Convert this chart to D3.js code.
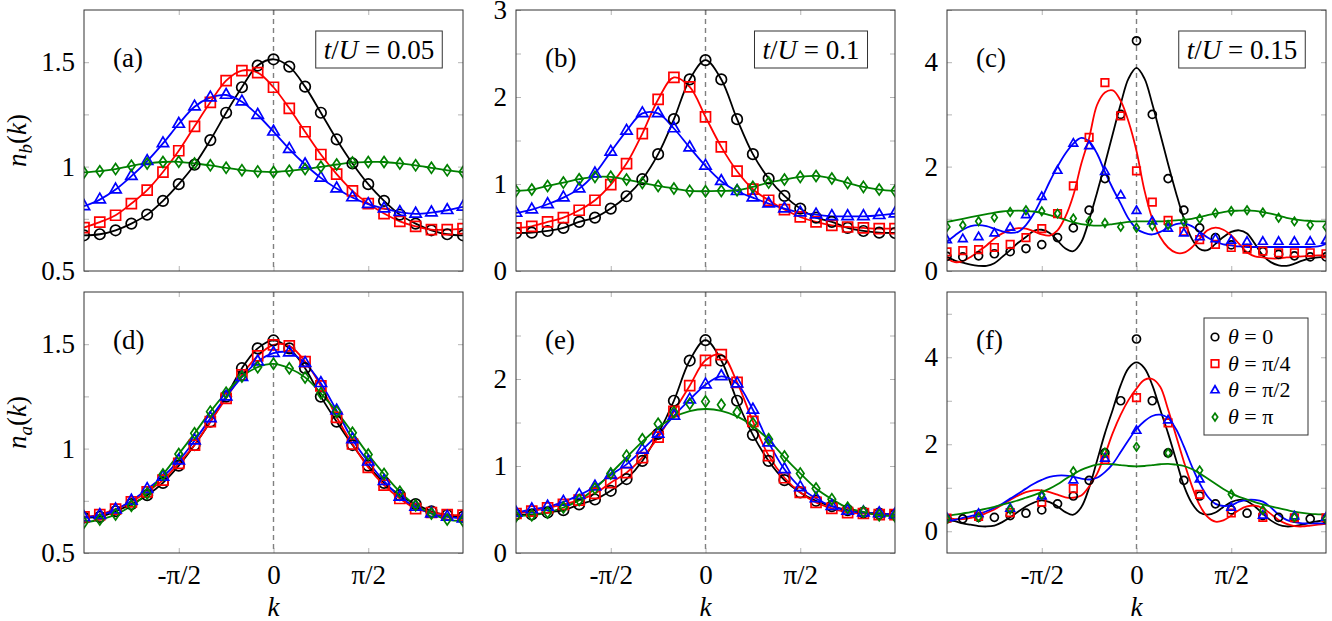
<!DOCTYPE html>
<html>
<head>
<meta charset="utf-8">
<script src="https://d3js.org/d3.v7.min.js"></script>
<style>
  body { margin: 0; background: #fff; }
  svg text { font-family: "Liberation Serif", "DejaVu Serif", serif; fill: #000; }
</style>
</head>
<body>
<div id="my_dataviz"></div>
<script>
// k grids in units of pi
const kData = d3.range(-12, 13).map(n => n / 12);   // 25 points, step pi/12
const kHalf = d3.range(-6, 7).map(n => n / 6);      // 13 points, step pi/6
const kFine = d3.range(-24, 25).map(n => n / 24);   // 49 points for the fitted curves

const thetaLabels = ["0", "π/4", "π/2", "π"];
const colors = ["#000000", "#ff0000", "#0000ff", "#008000"];
const markTypes = ["circle", "square", "triangle", "diamond"];
const kTicks = [-0.5, 0, 0.5];
const kTickLabels = ["-π/2", "0", "π/2"];

// (a) n_b, t/U = 0.05
const aT0 = [0.671,0.676,0.695,0.727,0.770,0.836,0.916,1.009,1.127,1.258,1.380,1.484,1.514,1.479,1.383,1.258,1.130,1.015,0.916,0.836,0.770,0.727,0.695,0.676,0.671];
const aT1 = [0.708,0.734,0.767,0.823,0.887,0.974,1.076,1.193,1.308,1.412,1.460,1.450,1.380,1.279,1.167,1.058,0.964,0.884,0.823,0.775,0.738,0.714,0.698,0.698,0.703];
const aT2 = [0.810,0.842,0.890,0.954,1.026,1.111,1.204,1.287,1.330,1.343,1.311,1.247,1.167,1.084,1.010,0.946,0.895,0.852,0.820,0.799,0.782,0.774,0.780,0.791,0.807];
const aT3 = [0.972,0.978,0.988,1.004,1.015,1.022,1.023,1.015,1.006,0.994,0.983,0.977,0.974,0.980,0.988,0.999,1.010,1.020,1.022,1.022,1.015,1.006,0.994,0.982,0.974];

// (b) n_b, t/U = 0.1
const bT0 = [0.437,0.441,0.460,0.495,0.564,0.614,0.717,0.859,1.055,1.343,1.745,2.202,2.424,2.202,1.745,1.343,1.063,0.863,0.717,0.614,0.564,0.495,0.460,0.441,0.437];
const bT1 = [0.495,0.514,0.564,0.614,0.698,0.813,0.993,1.235,1.580,1.972,2.225,2.117,1.772,1.427,1.147,0.940,0.813,0.706,0.621,0.564,0.525,0.506,0.495,0.487,0.487];
const bT2 = [0.667,0.706,0.767,0.844,0.947,1.120,1.369,1.611,1.811,1.811,1.638,1.419,1.208,1.032,0.917,0.844,0.775,0.717,0.671,0.648,0.629,0.629,0.629,0.641,0.660];
const bT3 = [0.921,0.936,0.978,1.016,1.055,1.082,1.082,1.051,1.013,0.978,0.948,0.921,0.917,0.921,0.928,0.967,1.016,1.051,1.082,1.093,1.063,1.013,0.967,0.936,0.921];

// (c) n_b, t/U = 0.15 : data points and fitted curves
const cT0 = [0.28,0.27,0.29,0.33,0.37,0.43,0.506,0.64,0.826,1.165,1.77,3.0,4.41,3.0,1.77,1.165,0.826,0.64,0.50,0.43,0.37,0.32,0.29,0.27,0.27];
const cT1 = [0.365,0.39,0.41,0.45,0.51,0.64,0.81,1.10,1.63,2.56,3.61,2.97,1.92,1.32,0.97,0.76,0.60,0.51,0.45,0.42,0.38,0.35,0.35,0.35,0.33];
const cT2 = [0.59,0.61,0.65,0.72,0.83,1.07,1.42,1.92,2.44,2.39,1.90,1.45,1.15,0.95,0.81,0.72,0.65,0.61,0.58,0.56,0.56,0.56,0.56,0.56,0.58];
const cT3 = [0.845,0.877,0.954,1.024,1.13,1.165,1.145,1.10,1.005,0.954,0.92,0.845,0.83,0.86,0.88,0.94,1.0,1.11,1.15,1.165,1.12,1.02,0.95,0.88,0.845];
const cL0 = [0.27,0.20,0.16,0.12,0.10,0.10,0.15,0.27,0.40,0.54,0.65,0.77,0.79,0.73,0.58,0.43,0.38,0.55,0.98,1.50,2.05,2.63,3.20,3.69,3.89,
             3.69,3.20,2.63,2.05,1.50,1.00,0.62,0.42,0.40,0.52,0.65,0.75,0.78,0.72,0.52,0.30,0.17,0.11,0.10,0.14,0.20,0.24,0.26,0.27];
const cL1 = [0.24,0.17,0.19,0.27,0.38,0.49,0.62,0.72,0.78,0.82,0.81,0.76,0.70,0.68,0.78,1.04,1.45,2.05,2.55,3.18,3.42,3.46,3.26,2.86,2.30,
             1.55,1.00,0.65,0.45,0.35,0.35,0.45,0.62,0.78,0.83,0.79,0.68,0.52,0.36,0.28,0.26,0.24,0.24,0.26,0.27,0.28,0.29,0.30,0.30];
const cL2 = [0.56,0.68,0.79,0.86,0.88,0.86,0.81,0.76,0.73,0.75,0.88,1.10,1.39,1.71,2.00,2.25,2.44,2.55,2.48,2.25,1.90,1.58,1.29,1.00,0.81,
             0.73,0.70,0.75,0.83,0.90,0.91,0.86,0.75,0.64,0.56,0.51,0.49,0.47,0.46,0.46,0.46,0.46,0.46,0.46,0.46,0.46,0.46,0.47,0.52];
const cL3 = [0.94,0.97,1.00,1.03,1.06,1.09,1.12,1.14,1.15,1.155,1.15,1.14,1.11,1.07,1.03,0.98,0.93,0.90,0.88,0.87,0.88,0.90,0.92,0.94,0.95,
             0.95,0.95,0.95,0.96,0.97,0.98,1.00,1.03,1.07,1.10,1.13,1.15,1.155,1.16,1.15,1.13,1.10,1.06,1.02,0.99,0.97,0.96,0.95,0.95];

// (d) n_a, t/U = 0.05
const dT0 = [0.670,0.673,0.700,0.734,0.777,0.836,0.918,1.017,1.129,1.249,1.385,1.480,1.518,1.480,1.385,1.249,1.129,1.017,0.918,0.836,0.777,0.734,0.700,0.682,0.673];
const dT1 = [0.673,0.684,0.710,0.745,0.793,0.849,0.929,1.017,1.129,1.241,1.353,1.444,1.497,1.492,1.417,1.300,1.150,1.022,0.910,0.825,0.761,0.713,0.694,0.684,0.681];
const dT2 = [0.670,0.681,0.708,0.750,0.806,0.865,0.942,1.038,1.145,1.249,1.342,1.417,1.457,1.460,1.409,1.313,1.182,1.044,0.937,0.844,0.769,0.721,0.689,0.673,0.665];
const dT3 = [0.646,0.660,0.684,0.726,0.785,0.876,0.974,1.073,1.177,1.268,1.345,1.390,1.406,1.385,1.341,1.265,1.177,1.076,0.972,0.878,0.793,0.729,0.689,0.660,0.654];

// (e) n_a, t/U = 0.1
const eT0 = [0.442,0.442,0.465,0.492,0.558,0.615,0.715,0.850,1.058,1.369,1.750,2.212,2.446,2.212,1.750,1.358,1.058,0.838,0.696,0.600,0.538,0.492,0.465,0.454,0.442];
const eT1 = [0.454,0.481,0.519,0.558,0.608,0.685,0.808,0.923,1.096,1.331,1.627,1.923,2.215,2.281,1.962,1.512,1.119,0.865,0.696,0.581,0.512,0.465,0.454,0.442,0.442];
const eT2 = [0.462,0.500,0.531,0.588,0.665,0.762,0.896,1.019,1.185,1.369,1.577,1.762,1.935,2.031,1.946,1.646,1.269,0.962,0.754,0.627,0.538,0.485,0.465,0.454,0.442];
const eT3 = [0.423,0.435,0.465,0.523,0.608,0.742,0.915,1.119,1.308,1.485,1.619,1.715,1.742,1.704,1.619,1.492,1.308,1.108,0.915,0.742,0.619,0.519,0.473,0.435,0.423];
const eL3 = [0.423,0.435,0.465,0.523,0.608,0.742,0.915,1.100,1.280,1.440,1.560,1.630,1.655,1.635,1.570,1.460,1.300,1.100,0.915,0.742,0.619,0.519,0.473,0.435,0.423];

// (f) n_a, t/U = 0.15 : theta=0 on the pi/12 grid, the others on pi/6
const fT0 = [0.285,0.285,0.32,0.32,0.36,0.415,0.49,0.63,0.81,1.17,1.80,3.0,4.42,3.0,1.80,1.17,0.81,0.63,0.49,0.415,0.36,0.32,0.31,0.285,0.285];
const fT1 = [0.30,0.34,0.43,0.67,0.98,1.65,3.07,2.49,0.846,0.42,0.32,0.31,0.31];
const fT2 = [0.30,0.40,0.52,0.80,1.17,1.67,2.31,2.55,1.19,0.54,0.36,0.34,0.31];
const fT3 = [0.285,0.32,0.50,0.84,1.38,1.81,1.94,1.80,1.40,0.85,0.49,0.32,0.285];
const fL0 = [0.26,0.23,0.18,0.15,0.12,0.11,0.13,0.21,0.32,0.45,0.57,0.66,0.71,0.67,0.57,0.44,0.38,0.55,1.00,1.62,2.25,2.80,3.36,3.75,3.88,
             3.75,3.36,2.80,2.25,1.65,1.05,0.65,0.43,0.38,0.43,0.56,0.67,0.72,0.69,0.57,0.40,0.25,0.15,0.11,0.12,0.15,0.20,0.23,0.26];
const fL1 = [0.31,0.28,0.28,0.31,0.35,0.42,0.50,0.61,0.72,0.82,0.90,0.94,0.94,0.90,0.84,0.78,0.77,0.82,1.03,1.32,1.76,2.26,2.68,3.02,3.28,
             3.48,3.50,3.32,2.80,2.20,1.60,1.05,0.60,0.33,0.22,0.25,0.36,0.49,0.57,0.59,0.53,0.40,0.26,0.17,0.12,0.11,0.13,0.15,0.17];
const fL2 = [0.23,0.26,0.31,0.35,0.40,0.46,0.54,0.63,0.75,0.86,0.98,1.09,1.18,1.25,1.28,1.28,1.25,1.21,1.19,1.23,1.36,1.55,1.82,2.10,2.35,
             2.53,2.65,2.68,2.60,2.35,1.95,1.50,1.10,0.80,0.63,0.58,0.60,0.68,0.72,0.72,0.68,0.55,0.38,0.26,0.21,0.18,0.18,0.18,0.18];
const fL3 = [0.36,0.38,0.41,0.44,0.48,0.52,0.56,0.61,0.66,0.71,0.77,0.83,0.90,0.98,1.08,1.20,1.31,1.41,1.48,1.53,1.55,1.54,1.52,1.50,1.49,
             1.50,1.52,1.54,1.55,1.53,1.50,1.43,1.33,1.21,1.09,0.97,0.87,0.79,0.73,0.67,0.62,0.57,0.53,0.49,0.45,0.42,0.40,0.39,0.38];

// panel geometry
const colX = [84, 516, 947], rowY = [10, 292];
const pw = 379, ph = 261;

const panels = [
  { tag: "(a)", col: 0, row: 0, tU: "0.05", dom: [0.5, 1.75], ticks: [0.5, 0.75, 1, 1.25, 1.5], labels: [0.5, 1, 1.5], ms: 10.5,
    marks: [[kData, aT0], [kData, aT1], [kData, aT2], [kData, aT3]],
    lines: [[kData, aT0], [kData, aT1], [kData, aT2], [kData, aT3]] },
  { tag: "(b)", col: 1, row: 0, tU: "0.1", dom: [0, 3], ticks: [0, 0.5, 1, 1.5, 2, 2.5, 3], labels: [0, 1, 2, 3], ms: 10.5,
    marks: [[kData, bT0], [kData, bT1], [kData, bT2], [kData, bT3]],
    lines: [[kData, bT0], [kData, bT1], [kData, bT2], [kData, bT3]] },
  { tag: "(c)", col: 2, row: 0, tU: "0.15", dom: [0, 5], ticks: [0, 1, 2, 3, 4, 5], labels: [0, 2, 4], ms: 8,
    marks: [[kData, cT0], [kData, cT1], [kData, cT2], [kData, cT3]],
    lines: [[kFine, cL0], [kFine, cL1], [kFine, cL2], [kFine, cL3]] },
  { tag: "(d)", col: 0, row: 1, dom: [0.5, 1.75], ticks: [0.5, 0.75, 1, 1.25, 1.5], labels: [0.5, 1, 1.5], ms: 10.5,
    marks: [[kData, dT0], [kData, dT1], [kData, dT2], [kData, dT3]],
    lines: [[kData, dT0], [kData, dT1], [kData, dT2], [kData, dT3]] },
  { tag: "(e)", col: 1, row: 1, dom: [0, 3], ticks: [0, 0.5, 1, 1.5, 2, 2.5], labels: [0, 1, 2], ms: 10.5,
    marks: [[kData, eT0], [kData, eT1], [kData, eT2], [kData, eT3]],
    lines: [[kData, eT0], [kData, eT1], [kData, eT2], [kData, eL3]] },
  { tag: "(f)", col: 2, row: 1, dom: [-0.5, 5.5], ticks: [0, 1, 2, 3, 4, 5], labels: [0, 2, 4], ms: 8, legend: true,
    marks: [[kData, fT0], [kHalf, fT1], [kHalf, fT2], [kHalf, fT3]],
    lines: [[kFine, fL0], [kFine, fL1], [kFine, fL2], [kFine, fL3]] }
];

function markPath(type, s) {
  const h = s / 2;
  if (type === "circle") return `M${h},0A${h},${h} 0 1,1 ${-h},0A${h},${h} 0 1,1 ${h},0Z`;
  if (type === "square") return `M${-h},${-h}H${h}V${h}H${-h}Z`;
  if (type === "triangle") { const r = s * 0.62; return `M0,${-r}L${r * 0.866},${r * 0.5}L${-r * 0.866},${r * 0.5}Z`; }
  return `M0,${-h * 1.05}L${h * 0.72},0L0,${h * 1.05}L${-h * 0.72},0Z`;
}

const svg = d3.select("#my_dataviz")
  .append("svg")
  .attr("width", 1332)
  .attr("height", 621);

function styleAxis(ax) {
  ax.attr("font-family", null).attr("font-size", 27);
  ax.select(".domain").remove();
  ax.selectAll(".tick line").attr("stroke", "#b4b4b4").attr("stroke-width", 1);
  ax.selectAll(".tick text").attr("fill", "#000");
}

panels.forEach((p, i) => {
  const g = svg.append("g").attr("transform", `translate(${colX[p.col]},${rowY[p.row]})`);
  const x = d3.scaleLinear().domain([-1, 1]).range([0, pw]);
  const y = d3.scaleLinear().domain(p.dom).range([ph, 0]);
  const yFmt = v => p.labels.includes(v) ? String(v) : "";

  // axes with inward ticks on all four sides
  g.append("g").call(d3.axisLeft(y).tickValues(p.ticks).tickFormat(yFmt).tickSizeInner(-5).tickSizeOuter(0).tickPadding(9)).call(styleAxis);
  g.append("g").attr("transform", `translate(${pw},0)`).call(d3.axisRight(y).tickValues(p.ticks).tickFormat("").tickSizeInner(-5).tickSizeOuter(0)).call(styleAxis);
  g.append("g").attr("transform", `translate(0,${ph})`)
    .call(d3.axisBottom(x).tickValues(kTicks).tickFormat((d, j) => p.row === 1 ? kTickLabels[j] : "").tickSizeInner(-5).tickSizeOuter(0).tickPadding(12))
    .call(styleAxis);
  g.append("g").call(d3.axisTop(x).tickValues(kTicks).tickFormat("").tickSizeInner(-5).tickSizeOuter(0)).call(styleAxis);

  // dashed line at k = 0
  g.append("line")
    .attr("x1", x(0)).attr("x2", x(0)).attr("y1", 0).attr("y2", ph)
    .attr("stroke", "#808080").attr("stroke-width", 1.4).attr("stroke-dasharray", "5,4");

  const clipId = "clip" + i;
  g.append("clipPath").attr("id", clipId).append("rect").attr("width", pw).attr("height", ph);
  const plot = g.append("g").attr("clip-path", `url(#${clipId})`);

  const line = d3.line()
    .x(d => x(d[0]))
    .y(d => y(d[1]))
    .curve(d3.curveCatmullRom.alpha(0.5));

  p.lines.forEach(([ks, vals], s) => {
    plot.append("path")
      .datum(ks.map((k, j) => [k, vals[j]]))
      .attr("fill", "none")
      .attr("stroke", colors[s])
      .attr("stroke-width", 1.8)
      .attr("d", line);
  });

  p.marks.forEach(([ks, vals], s) => {
    plot.selectAll(null)
      .data(ks.map((k, j) => [k, vals[j]]))
      .join("path")
      .attr("transform", d => `translate(${x(d[0])},${y(d[1])})`)
      .attr("d", markPath(markTypes[s], markTypes[s] === "square" ? p.ms - 0.5 : p.ms))
      .attr("fill", "none")
      .attr("stroke", colors[s])
      .attr("stroke-width", 1.7);
  });

  // frame
  g.append("rect").attr("width", pw).attr("height", ph)
    .attr("fill", "none").attr("stroke", "#333").attr("stroke-width", 1);

  // panel tag
  g.append("text").attr("x", 29).attr("y", 57).attr("font-size", 27).text(p.tag);

  // t/U box
  if (p.tU) {
    const box = g.append("rect");
    const t = g.append("text").attr("x", 295).attr("y", 49).attr("text-anchor", "middle").attr("font-size", 27);
    t.append("tspan").attr("font-style", "italic").text("t");
    t.append("tspan").text("/");
    t.append("tspan").attr("font-style", "italic").text("U");
    t.append("tspan").text(" = " + p.tU);
    const bb = t.node().getBBox();
    box.attr("x", bb.x - 8).attr("y", 21).attr("width", bb.width + 16).attr("height", 37)
      .attr("fill", "#fff").attr("stroke", "#333").attr("stroke-width", 1);
  }

  // legend
  if (p.legend) {
    const lg = g.append("g").attr("transform", "translate(257,26)");
    lg.append("rect").attr("width", 104).attr("height", 117)
      .attr("fill", "#fff").attr("stroke", "#333").attr("stroke-width", 1);
    thetaLabels.forEach((lab, s) => {
      const cy = 19 + s * 26.7;
      lg.append("path")
        .attr("transform", `translate(11,${cy})`)
        .attr("d", markPath(markTypes[s], 7.5))
        .attr("fill", "none").attr("stroke", colors[s]).attr("stroke-width", 1.7);
      const t = lg.append("text").attr("x", 24).attr("y", cy + 7).attr("font-size", 22);
      t.append("tspan").attr("font-style", "italic").text("θ");
      t.append("tspan").text(" = " + lab);
    });
  }

  // axis titles
  if (p.row === 1) {
    g.append("text").attr("x", pw / 2).attr("y", ph + 63).attr("text-anchor", "middle")
      .attr("font-size", 27).attr("font-style", "italic").text("k");
  }
  if (p.col === 0) {
    const t = g.append("text")
      .attr("transform", `translate(${26 - colX[0]},${ph / 2}) rotate(-90)`)
      .attr("text-anchor", "middle").attr("font-size", 27);
    t.append("tspan").attr("font-style", "italic").text("n");
    t.append("tspan").attr("font-style", "italic").attr("font-size", 19).attr("dy", 6).text(p.row === 0 ? "b" : "a");
    t.append("tspan").attr("dy", -6).text("(");
    t.append("tspan").attr("font-style", "italic").text("k");
    t.append("tspan").text(")");
  }
});
</script>
</body>
</html>
